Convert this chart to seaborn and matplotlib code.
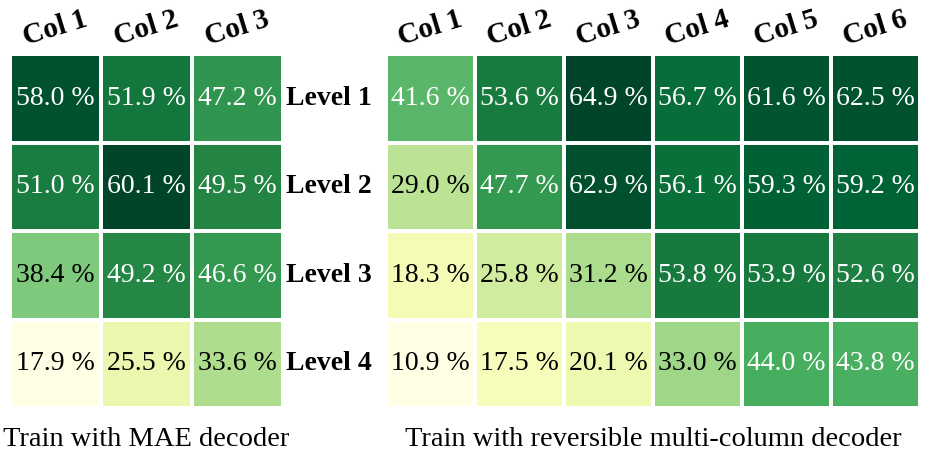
import numpy as np
import pandas as pd
import matplotlib
matplotlib.use("Agg")
import matplotlib.pyplot as plt
import seaborn as sns

sns.set_theme(style="white")
plt.rcParams['font.family'] = ['Liberation Serif', 'DejaVu Serif']
plt.rcParams['text.color'] = 'black'
plt.rcParams['axes.labelcolor'] = 'black'
plt.rcParams['xtick.color'] = 'black'
plt.rcParams['ytick.color'] = 'black'

levels = ["Level 1", "Level 2", "Level 3", "Level 4"]
left_cols = ["Col 1", "Col 2", "Col 3"]
right_cols = ["Col 1", "Col 2", "Col 3", "Col 4", "Col 5", "Col 6"]

mae_values = [
    [58.0, 51.9, 47.2],
    [51.0, 60.1, 49.5],
    [38.4, 49.2, 46.6],
    [17.9, 25.5, 33.6],
]
rev_values = [
    [41.6, 53.6, 64.9, 56.7, 61.6, 62.5],
    [29.0, 47.7, 62.9, 56.1, 59.3, 59.2],
    [18.3, 25.8, 31.2, 53.8, 53.9, 52.6],
    [10.9, 17.5, 20.1, 33.0, 44.0, 43.8],
]
captions = ["Train with MAE decoder", "Train with reversible multi-column decoder"]

fig = plt.figure(figsize=(9.3, 4.58), dpi=100)
W, H = 930, 458
ax_l = fig.add_axes([10 / W, 50 / H, 273 / W, 354 / H])
ax_r = fig.add_axes([386 / W, 50 / H, 534 / W, 354 / H])


def draw(ax, values, cols, caption, show_rows):
    df = pd.DataFrame(values, index=levels, columns=cols)
    arr = df.values
    vmin, vmax = arr.min(), arr.max()
    labels = np.vectorize(lambda v: f"{v:.1f} %")(arr)
    sns.heatmap(df, ax=ax, cmap="YlGn", vmin=vmin, vmax=vmax, annot=labels, fmt="",
                cbar=False, linewidths=1.6, linecolor="white",
                annot_kws={"fontsize": 20, "family": "Liberation Serif"})
    flat = arr.flatten()
    for t, v in zip(ax.texts, flat):
        t.set_color("white" if (v - vmin) / (vmax - vmin) > 0.5 else "black")
    ax.xaxis.tick_top()
    ax.set_xticklabels(cols, rotation=17, fontsize=21, fontweight="bold", ha="center",
                       rotation_mode="default")
    ax.tick_params(axis="both", length=0)
    ax.tick_params(axis="x", pad=2)
    if show_rows:
        ax.set_yticklabels(levels, rotation=0, fontsize=20, fontweight="bold", ha="right")
        ax.tick_params(axis="y", pad=10)
    else:
        ax.set_yticks([])
    ax.set_ylabel("")
    ax.xaxis.set_label_position("bottom")
    ax.set_xlabel(caption, fontsize=20.5, labelpad=14)


draw(ax_l, mae_values, left_cols, captions[0], False)
draw(ax_r, rev_values, right_cols, captions[1], True)

fig.savefig("out.png", dpi=100)
